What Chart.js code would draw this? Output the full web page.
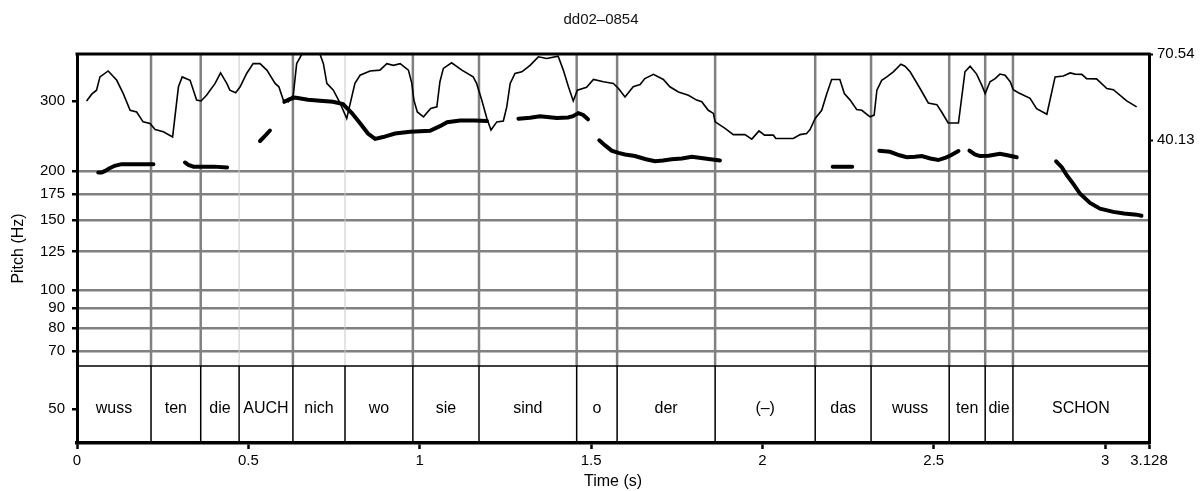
<!DOCTYPE html>
<html>
<head>
<meta charset="utf-8">
<title>dd02–0854</title>
<script src="https://cdn.jsdelivr.net/npm/chart.js@4.4.1/dist/chart.umd.min.js"></script>
<style>
  html, body { margin: 0; padding: 0; background: #fff; overflow: hidden; }
  canvas { display: block; }
</style>
</head>
<body>
<canvas id="canvas" width="1202" height="491"></canvas>
<script>
// word tier: interval boundaries (s) and labels
var boundaries = [0, 0.216, 0.361, 0.473, 0.630, 0.782, 0.980, 1.173, 1.458, 1.576,
                  1.862, 2.154, 2.317, 2.545, 2.650, 2.731, 3.128];
var words = ['wuss', 'ten', 'die', 'AUCH', 'nich', 'wo', 'sie', 'sind', 'o', 'der',
             '(–)', 'das', 'wuss', 'ten', 'die', 'SCHON'];

// pitch contour (Hz), null = unvoiced gap
var pitchTime = [0.062, 0.072, 0.082, 0.095, 0.110, 0.130, 0.160, 0.190, 0.223, null,
                 0.315, 0.325, 0.340, 0.370, 0.400, 0.438, null,
                 0.534, 0.548, 0.563, null,
                 0.605, 0.622, 0.636, 0.674, 0.709, 0.747, 0.776, 0.802, 0.826, 0.849,
                 0.870, 0.893, 0.928, 0.972, 1.030, 1.059, 1.080, 1.118, 1.161, 1.196, null,
                 1.288, 1.322, 1.351, 1.400, 1.433, 1.447, 1.463, 1.477, 1.491, null,
                 1.524, 1.541, 1.560, 1.580, 1.599, 1.628, 1.660, 1.687, 1.710, 1.735,
                 1.765, 1.794, 1.832, 1.876, null,
                 2.205, 2.235, 2.262, null,
                 2.341, 2.372, 2.400, 2.421, 2.445, 2.465, 2.490, 2.513, 2.535, 2.550, 2.572, null,
                 2.604, 2.620, 2.635, 2.660, 2.693, 2.715, 2.742, null,
                 2.857, 2.874, 2.888, 2.906, 2.927, 2.956, 2.985, 3.024, 3.055, 3.092, 3.106];
var pitchHz = [198, 198, 200, 203, 206, 208, 208, 208, 208, null,
               210, 207, 205, 205, 205, 204, null,
               238, 245, 253, null,
               299, 304, 306.5, 302.5, 301, 299, 295, 280, 264, 248.5,
               241, 243.5, 248.5, 251, 252.5, 259.5, 265.5, 268, 268, 267.5, null,
               271, 272.5, 275, 272, 273, 275, 280, 277, 270, null,
               239, 232, 225, 222, 220, 218, 214, 211.5, 212.5, 214,
               215, 217, 215, 212.5, null,
               205, 205, 205, null,
               225, 223.5, 219, 216.5, 217, 218, 215, 213, 216, 219, 224.5, null,
               225, 220, 218, 218.5, 221, 219, 216.5, null,
               211.5, 204, 195, 186, 175, 166, 160.5, 157.5, 156, 155, 154];

// intensity contour (dB), right axis
var intTime = [0.028, 0.043, 0.057, 0.067, 0.091, 0.116, 0.135, 0.155, 0.174, 0.193,
               0.213, 0.228, 0.252, 0.279, 0.296, 0.307, 0.330, 0.349, 0.362, 0.378,
               0.403, 0.419, 0.437, 0.446, 0.463, 0.476, 0.495, 0.514, 0.534, 0.554,
               0.578, 0.589, 0.602, 0.617, 0.631, 0.641, 0.656, 0.709, 0.719, 0.729,
               0.748, 0.767, 0.787, 0.811, 0.826, 0.855, 0.884, 0.904, 0.923, 0.943,
               0.967, 0.977, 0.983, 0.993, 1.011, 1.032, 1.050, 1.059, 1.069, 1.093,
               1.123, 1.156, 1.166, 1.181, 1.196, 1.208, 1.225, 1.244, 1.254, 1.264,
               1.278, 1.298, 1.322, 1.346, 1.371, 1.404, 1.419, 1.434, 1.448, 1.460,
               1.487, 1.507, 1.536, 1.565, 1.580, 1.599, 1.623, 1.643, 1.657, 1.682,
               1.711, 1.730, 1.755, 1.784, 1.808, 1.823, 1.842, 1.857, 1.862, 1.891,
               1.915, 1.949, 1.969, 1.990, 2.006, 2.032, 2.039, 2.090, 2.110, 2.129,
               2.139, 2.154, 2.173, 2.188, 2.202, 2.226, 2.239, 2.256, 2.275, 2.290,
               2.314, 2.326, 2.334, 2.348, 2.363, 2.382, 2.404, 2.416, 2.431, 2.460,
               2.484, 2.509, 2.523, 2.542, 2.572, 2.591, 2.606, 2.625, 2.640, 2.650,
               2.664, 2.679, 2.693, 2.708, 2.723, 2.732, 2.747, 2.781, 2.800, 2.830,
               2.854, 2.878, 2.898, 2.912, 2.932, 2.946, 2.975, 3.005, 3.024, 3.063,
               3.092];
var intDb = [54.0, 56.4, 57.8, 62.5, 64.6, 61.3, 56.6, 50.7, 50.1, 46.6,
             46.0, 43.9, 43.1, 41.3, 59.0, 62.5, 61.3, 54.3, 54.0, 56.0,
             60.2, 63.9, 60.2, 57.8, 56.9, 59.0, 63.7, 67.2, 67.2, 64.9,
             60.2, 59.0, 54.3, 53.7, 56.0, 67.2, 70.5, 70.5, 67.2, 60.2,
             57.8, 53.4, 47.8, 60.2, 63.1, 64.6, 64.9, 67.2, 66.6, 67.2,
             64.9, 60.2, 54.3, 50.1, 48.4, 51.3, 51.9, 60.8, 65.5, 67.5,
             64.9, 62.5, 60.2, 54.3, 47.8, 43.7, 46.6, 46.9, 51.9, 60.2,
             63.7, 64.3, 66.6, 69.6, 69.0, 69.8, 64.9, 59.0, 54.0, 57.8,
             58.8, 61.6, 60.8, 60.2, 58.4, 55.4, 59.0, 59.8, 61.9, 63.4,
             61.6, 59.0, 57.2, 56.0, 54.3, 53.7, 50.7, 49.6, 46.6, 44.3,
             42.1, 42.1, 40.5, 43.4, 41.9, 41.9, 40.7, 40.7, 42.1, 42.5,
             43.9, 47.8, 50.7, 56.6, 61.6, 61.6, 56.6, 54.3, 51.0, 50.7,
             48.4, 49.0, 57.8, 61.3, 62.5, 64.3, 67.0, 66.3, 64.3, 58.4,
             53.3, 52.7, 50.1, 46.2, 46.2, 64.3, 66.3, 63.5, 59.6, 56.6,
             60.8, 61.9, 63.5, 63.1, 60.8, 58.0, 56.9, 54.9, 51.3, 49.3,
             62.5, 62.8, 63.9, 63.5, 63.4, 61.9, 61.8, 58.4, 58.0, 54.0,
             51.9];

// tick labels
var timeTicks = [0, 0.5, 1, 1.5, 2, 2.5, 3, 3.128];
var pitchTicks = [50, 70, 80, 90, 100, 125, 150, 175, 200, 300];
var intTicks = [40.13, 70.54];

var FONT = '"Liberation Sans", Arial, Helvetica, sans-serif';
var NO_GRID = [50, 300];      // pitch ticks without a horizontal grid line
var FAINT = [3, 5];           // boundary indices drawn as thin light lines
var TIER_HEIGHT = 77;

var tierPlugin = {
    id: 'tier',
    beforeDatasetsDraw: function (chart) {
        var ctx = chart.ctx, a = chart.chartArea, x = chart.scales.x;
        var tierTop = a.bottom - TIER_HEIGHT;
        ctx.save();
        for (var i = 1; i < boundaries.length - 1; i++) {
            var px = x.getPixelForValue(boundaries[i]);
            var faint = FAINT.indexOf(i) >= 0;
            ctx.strokeStyle = faint ? '#c8c8c8' : '#808080';
            ctx.lineWidth = faint ? 1 : 2.5;
            ctx.beginPath();
            ctx.moveTo(px, a.top);
            ctx.lineTo(px, tierTop);
            ctx.stroke();
        }
        ctx.restore();
    },
    afterDatasetsDraw: function (chart) {
        var ctx = chart.ctx, a = chart.chartArea, x = chart.scales.x, y = chart.scales.y;
        var tierTop = a.bottom - TIER_HEIGHT;
        ctx.save();
        ctx.strokeStyle = '#000';
        ctx.lineWidth = 1.5;
        ctx.beginPath();
        ctx.moveTo(a.left, tierTop);
        ctx.lineTo(a.right, tierTop);
        for (var i = 1; i < boundaries.length - 1; i++) {
            var px = x.getPixelForValue(boundaries[i]);
            ctx.moveTo(px, tierTop);
            ctx.lineTo(px, a.bottom);
        }
        ctx.stroke();

        // top frame line
        ctx.lineWidth = 3;
        ctx.beginPath();
        ctx.moveTo(a.left - 1.5, a.top);
        ctx.lineTo(a.right + 1.5, a.top);
        ctx.stroke();

        ctx.fillStyle = '#000';
        ctx.font = '16px ' + FONT;
        ctx.textAlign = 'center';
        ctx.textBaseline = 'middle';
        var ty = y.getPixelForValue(50);
        for (var j = 0; j < words.length; j++) {
            var cx = (x.getPixelForValue(boundaries[j]) + x.getPixelForValue(boundaries[j + 1])) / 2;
            ctx.fillText(words[j], cx, ty);
        }
        ctx.restore();
    }
};

var pitchPoints = pitchTime.map(function (t, i) { return { x: t, y: pitchHz[i] }; });
var intPoints = intTime.map(function (t, i) { return { x: t, y: intDb[i] }; });

var ctx = document.getElementById('canvas').getContext('2d');
var myChart = new Chart(ctx, {
    type: 'line',
    data: {
        datasets: [{
            label: 'Intensity',
            data: intPoints,
            yAxisID: 'y2',
            borderColor: '#000',
            borderWidth: 1.6,
            pointRadius: 0,
            tension: 0
        }, {
            label: 'Pitch',
            data: pitchPoints,
            yAxisID: 'y',
            borderColor: '#000',
            borderWidth: 4,
            borderCapStyle: 'round',
            pointRadius: 0,
            spanGaps: false,
            tension: 0
        }]
    },
    options: {
        responsive: false,
        animation: false,
        layout: { padding: 0 },
        plugins: {
            legend: { display: false },
            tooltip: { enabled: false },
            title: {
                display: true,
                text: 'dd02–0854',
                color: '#111',
                font: { family: FONT, size: 15, weight: 'normal' },
                padding: { top: 11, bottom: 25 }
            }
        },
        scales: {
            x: {
                type: 'linear',
                min: 0,
                max: 3.128,
                afterBuildTicks: function (s) { s.ticks = timeTicks.map(function (v) { return { value: v }; }); },
                afterFit: function (s) { s.height = 48; },
                ticks: {
                    autoSkip: false, maxRotation: 0, padding: 3, color: '#000',
                    font: { family: FONT, size: 15 },
                    callback: function (v) { return String(v); }
                },
                grid: { drawOnChartArea: false, tickColor: '#000', tickLength: 6, tickWidth: 2.5 },
                border: { color: '#000', width: 3.5 },
                title: {
                    display: true, text: 'Time (s)', color: '#000',
                    font: { family: FONT, size: 16 }, padding: { top: 0, bottom: 0 }
                }
            },
            y: {
                type: 'logarithmic',
                position: 'left',
                min: 41,
                max: 395,
                afterBuildTicks: function (s) { s.ticks = pitchTicks.map(function (v) { return { value: v }; }); },
                afterFit: function (s) { s.width = 77; },
                ticks: {
                    padding: 7, color: '#000',
                    font: { family: FONT, size: 15 },
                    callback: function (v) { return String(v); }
                },
                grid: {
                    color: function (c) {
                        return (c.tick && NO_GRID.indexOf(c.tick.value) >= 0) ? 'rgba(0,0,0,0)' : '#808080';
                    },
                    lineWidth: 2.5,
                    tickColor: '#000',
                    tickLength: 5,
                    tickWidth: 2.5
                },
                border: { color: '#000', width: 3 },
                title: {
                    display: true, text: 'Pitch (Hz)', color: '#000',
                    font: { family: FONT, size: 16 }, padding: { top: 9, bottom: 0 }
                }
            },
            y2: {
                type: 'linear',
                position: 'right',
                min: -66.95,
                max: 70.6,
                afterBuildTicks: function (s) { s.ticks = intTicks.map(function (v) { return { value: v }; }); },
                afterFit: function (s) { s.width = 53; },
                ticks: {
                    padding: 4, color: '#000',
                    font: { family: FONT, size: 15 },
                    callback: function (v) { return v.toFixed(2); }
                },
                grid: { drawOnChartArea: false, tickColor: '#000', tickLength: 4, tickWidth: 2 },
                border: { color: '#000', width: 3 }
            }
        }
    },
    plugins: [tierPlugin]
});
</script>
</body>
</html>
